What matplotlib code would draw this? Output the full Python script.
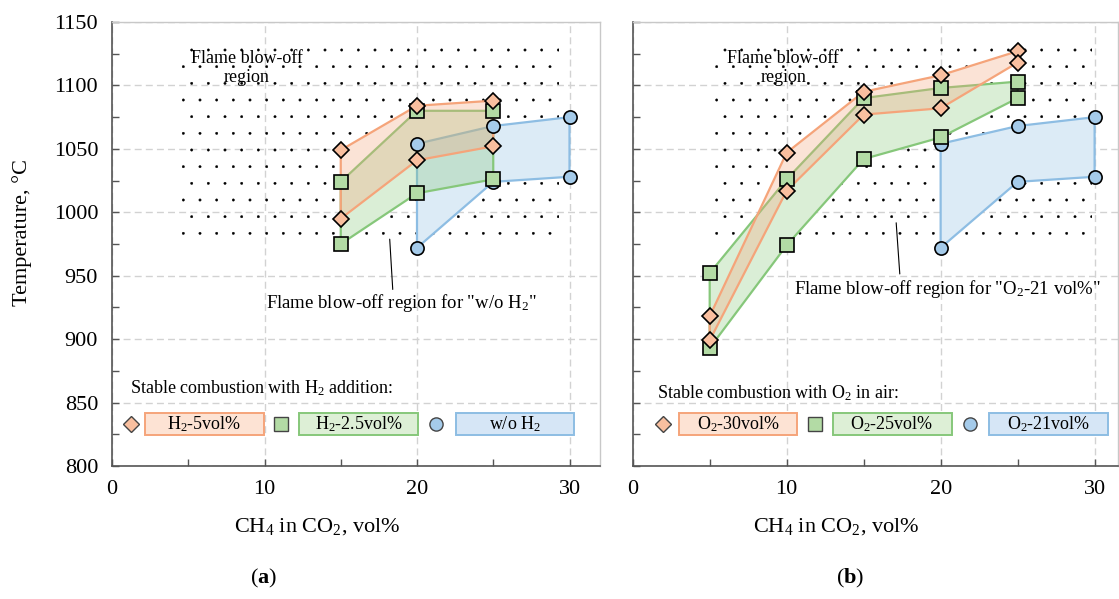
import matplotlib
matplotlib.use("Agg")
import matplotlib.pyplot as plt
import matplotlib.hatch
from matplotlib.patches import Rectangle
from matplotlib.ticker import MultipleLocator

plt.rcParams['font.family'] = ['Liberation Serif', 'DejaVu Serif']
plt.rcParams['mathtext.fontset'] = 'custom'
plt.rcParams['mathtext.rm'] = 'Liberation Serif'
plt.rcParams['mathtext.it'] = 'Liberation Serif:italic'
plt.rcParams['mathtext.bf'] = 'Liberation Serif:bold'
plt.rcParams['hatch.linewidth'] = 0.3
matplotlib.hatch.SmallFilledCircles.size = 0.07   # smaller dots for the blow-off area

# ---- data, panel (a): H2 addition ----
a_x = [15, 20, 25]
h2_5_hi = [1049, 1084, 1088]
h2_5_lo = [995, 1041, 1052]
h2_25_hi = [1024, 1080, 1080]
h2_25_lo = [975, 1015, 1026]
air_x = [20, 25, 30]
air_hi = [1054, 1068, 1075]
air_lo = [972, 1024, 1028]

# ---- data, panel (b): O2 in air ----
b_x = [5, 10, 15, 20, 25]
o2_30_hi = [918, 1047, 1095, 1108, 1127]
o2_30_lo = [899, 1017, 1077, 1082, 1118]
o2_25_hi = [952, 1026, 1090, 1098, 1103]
o2_25_lo = [893, 974, 1042, 1059, 1090]

x_ticks = [0, 10, 20, 30]
y_ticks = [800, 850, 900, 950, 1000, 1050, 1100, 1150]

# colours
c_or, c_gr, c_bl = '#F5A47A', '#86C77A', '#8DBDE3'
m_or, m_gr, m_bl = '#F9BF9F', '#B3DBA5', '#A5CBEA'
box_fc = ['#FDE3D4', '#DDEFD6', '#D6E6F6']

# marker sizes (pt)
ms_d, ms_s, ms_o = 8.2, 9.6, 9.5

fig = plt.figure(figsize=(11.19, 5.99), dpi=100)
W, H = 1119, 599
ax_a = fig.add_axes([112 / W, 1 - 466 / H, 488 / W, 444 / H])
ax_b = fig.add_axes([632.7 / W, 1 - 466 / H, 485 / W, 444 / H])


def region(ax, x, hi, lo, line_c, z):
    px = list(x) + list(x)[::-1]
    py = list(hi) + list(lo)[::-1]
    ax.fill(px, py, color='white', lw=0, zorder=1.5)
    ax.fill(px, py, facecolor=line_c, alpha=0.3, edgecolor='none', zorder=z)
    ax.plot(px + [px[0]], py + [py[0]], color=line_c, lw=1.6, zorder=z + 0.05)


def markers(ax, x, hi, lo, mk, fc, ms, z):
    ax.plot(x, hi, ls='none', marker=mk, ms=ms, mfc=fc, mec='black', mew=1.2, zorder=z)
    ax.plot(x, lo, ls='none', marker=mk, ms=ms, mfc=fc, mec='black', mew=1.2, zorder=z)


def style(ax, xmax, show_y):
    ax.set_xlim(0, xmax)
    ax.set_ylim(800, 1150)
    ax.set_xticks(x_ticks)
    ax.set_yticks(y_ticks)
    ax.xaxis.set_minor_locator(MultipleLocator(5))
    ax.yaxis.set_minor_locator(MultipleLocator(25))
    ax.tick_params(which='both', direction='in', length=5, width=1, color='#555555',
                   labelsize=16, pad=10, labelleft=show_y)
    ax.grid(True, which='major', color='#d2d2d2', ls=(0, (5, 3)), lw=1.0)
    ax.set_axisbelow(True)
    for s in ['left', 'bottom']:
        ax.spines[s].set_color('#555555')
        ax.spines[s].set_linewidth(1.2)
    for s in ['top', 'right']:
        ax.spines[s].set_color('#c8c8c8')
        ax.spines[s].set_linewidth(1.0)
    ax.set_xlabel('CH$_4$ in CO$_2$, vol%', fontsize=16)
    ax.xaxis.set_label_coords(0.42, -0.112)


def legend_row(ax, title, title_xy, y, items):
    ax.text(title_xy[0], title_xy[1], title, fontsize=13, ha='left', va='center', zorder=6)
    for mk, ms, fc, mx, bx0, bx1, lbl, bfc, bec in items:
        ax.plot([mx], [y], ls='none', marker=mk, ms=ms, mfc=fc, mec='#444444', mew=1.0,
                zorder=6, clip_on=False)
        ax.add_patch(Rectangle((bx0, y - 8.5), bx1 - bx0, 17, facecolor=bfc, edgecolor=bec,
                               lw=1.4, zorder=5.5))
        ax.text((bx0 + bx1) / 2, y, lbl, fontsize=13, ha='center', va='center', zorder=6)


# ---------------- panel (a) ----------------
ax = ax_a
ax.add_patch(Rectangle((4.24, 977.6), 29.3 - 4.24, 1137 - 977.6, facecolor='none',
                       edgecolor='black', lw=0, hatch='.', zorder=1))
region(ax, air_x, air_hi, air_lo, c_bl, 2.0)
region(ax, a_x, h2_25_hi, h2_25_lo, c_gr, 2.2)
region(ax, a_x, h2_5_hi, h2_5_lo, c_or, 2.4)
markers(ax, air_x, air_hi, air_lo, 'o', m_bl, ms_o, 5.0)
markers(ax, a_x, h2_25_hi, h2_25_lo, 's', m_gr, ms_s, 5.1)
markers(ax, a_x, h2_5_hi, h2_5_lo, 'D', m_or, ms_d, 5.2)
ax.text(8.82, 1113.7, 'Flame blow-off\nregion', fontsize=13, ha='center', va='center', zorder=6)
ax.annotate('', xy=(18.2, 981), xytext=(18.42, 937),
            arrowprops=dict(arrowstyle='-', lw=0.8, color='black'), zorder=6)
ax.text(10.07, 928.3, 'Flame blow-off region for "w/o H$_2$"', fontsize=13.5,
        ha='left', va='center', zorder=6)
legend_row(ax, 'Stable combustion with H$_2$ addition:', (1.18, 861.2), 833,
           [('D', ms_d, m_or, 1.24, 2.16, 9.97, 'H$_2$-5vol%', box_fc[0], c_or),
            ('s', ms_s, m_gr, 11.1, 12.27, 20.06, 'H$_2$-2.5vol%', box_fc[1], c_gr),
            ('o', ms_o, m_bl, 21.26, 22.53, 30.32, 'w/o H$_2$', box_fc[2], c_bl)])
style(ax, 32, True)

# ---------------- panel (b) ----------------
ax = ax_b
ax.add_patch(Rectangle((5.13, 971.8), 29.8 - 5.13, 1137 - 971.8, facecolor='none',
                       edgecolor='black', lw=0, hatch='.', zorder=1))
region(ax, air_x, air_hi, air_lo, c_bl, 2.0)
region(ax, b_x, o2_25_hi, o2_25_lo, c_gr, 2.2)
region(ax, b_x, o2_30_hi, o2_30_lo, c_or, 2.4)
markers(ax, air_x, air_hi, air_lo, 'o', m_bl, ms_o, 5.0)
markers(ax, b_x, o2_25_hi, o2_25_lo, 's', m_gr, ms_s, 5.1)
markers(ax, b_x, o2_30_hi, o2_30_lo, 'D', m_or, ms_d, 5.2)
ax.text(9.78, 1113.7, 'Flame blow-off\nregion', fontsize=13, ha='center', va='center', zorder=6)
ax.annotate('', xy=(17.1, 993.9), xytext=(17.36, 949.2),
            arrowprops=dict(arrowstyle='-', lw=0.8, color='black'), zorder=6)
ax.text(10.47, 939.3, 'Flame blow-off region for "O$_2$-21 vol%"', fontsize=13.5,
        ha='left', va='center', zorder=6)
legend_row(ax, 'Stable combustion with O$_2$ in air:', (1.56, 857.3), 833,
           [('D', ms_d, m_or, 1.99, 3.0, 10.7, 'O$_2$-30vol%', box_fc[0], c_or),
            ('s', ms_s, m_gr, 11.84, 12.99, 20.71, 'O$_2$-25vol%', box_fc[1], c_gr),
            ('o', ms_o, m_bl, 21.9, 23.14, 30.88, 'O$_2$-21vol%', box_fc[2], c_bl)])
style(ax, 31.5, False)

fig.text(22 / W, 1 - 232 / H, 'Temperature, °C', rotation=90, fontsize=16,
         ha='center', va='center')
fig.text(264 / W, 1 - 578 / H, r'($\mathbf{a}$)', fontsize=16, ha='center', va='center')
fig.text(850 / W, 1 - 578 / H, r'($\mathbf{b}$)', fontsize=16, ha='center', va='center')

fig.savefig('out.png', dpi=100)
